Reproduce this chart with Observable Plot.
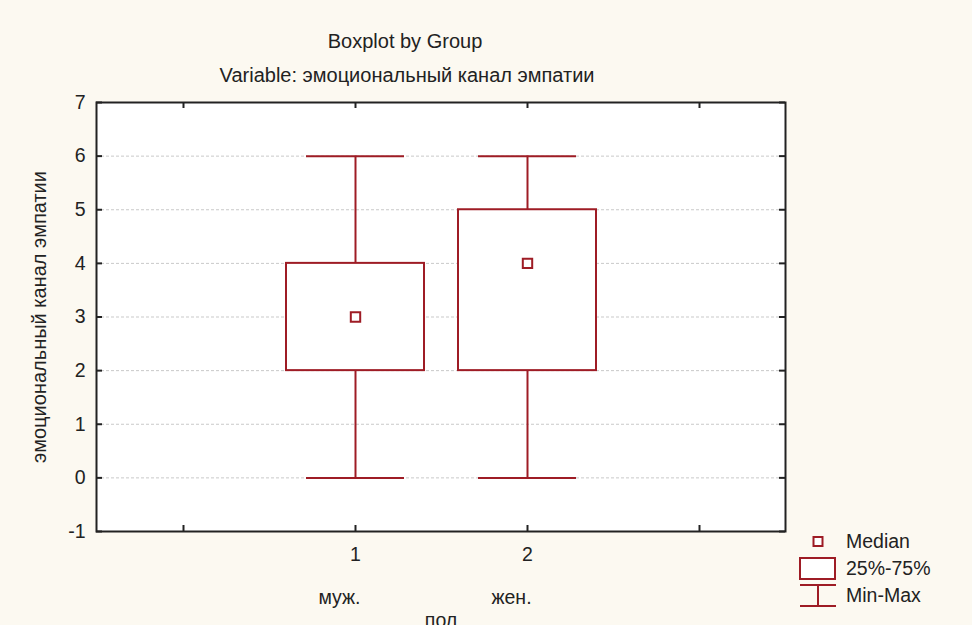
<!DOCTYPE html>
<html>
<head>
<meta charset="utf-8">
<script src="https://cdn.jsdelivr.net/npm/d3@7"></script>
<script src="https://cdn.jsdelivr.net/npm/@observablehq/plot@0.6"></script>
<style>
  html, body { margin: 0; padding: 0; background: #fcf9f1; overflow: hidden; }
  #chart { width: 972px; height: 625px; }
</style>
</head>
<body>
<div id="chart"></div>
<script>
// Box statistics per group (variable: эмоциональный канал эмпатии, grouped by пол)
const groups = [1, 2];
const groupNames = ["муж.", "жен."];
const minVals = [0, 0];
const q1Vals = [2, 2];
const medianVals = [3, 4];
const q3Vals = [4, 5];
const maxVals = [6, 6];

// Axis values
const xTickValues = [0, 1, 2, 3];
const xLabelValues = [1, 2];
const yTickValues = [-1, 0, 1, 2, 3, 4, 5, 6, 7];
const gridValues = [0, 1, 2, 3, 4, 5, 6];

const titleText = "Boxplot by Group";
const subtitleText = "Variable: эмоциональный канал эмпатии";
const yLabelText = "эмоциональный канал эмпатии";
const xLabelText = "пол";
const legendLabels = ["Median", "25%-75%", "Min-Max"];

const RED = "#9e1c25";
const INK = "#222";
const FONT = 19.5;
const TITLE_FONT = 20;

const rows = groups.map((g, i) => ({
  group: g,
  name: groupNames[i],
  min: minVals[i],
  q1: q1Vals[i],
  median: medianVals[i],
  q3: q3Vals[i],
  max: maxVals[i]
}));

const W = 972, H = 625;
const mL = 96, mR = 187, mT = 102, mB = 94;
const frameW = W - mL - mR;
const frameH = H - mT - mB;
const tick = 6;

const boxStyle = {stroke: RED, strokeWidth: 2};
const textStyle = {fontSize: FONT, fill: INK, lineAnchor: "middle", textAnchor: "middle"};
const titleStyle = {...textStyle, fontSize: TITLE_FONT};

const chart = Plot.plot({
  width: W,
  height: H,
  marginLeft: mL,
  marginRight: mR,
  marginTop: mT,
  marginBottom: mB,
  style: {
    background: "transparent",
    fontFamily: "'Liberation Sans', Arial, sans-serif",
    fontSize: FONT + "px",
    color: INK,
    overflow: "hidden"
  },
  x: {type: "band", domain: xTickValues, paddingInner: 0.2, paddingOuter: 0.1, align: 0.5, label: null},
  y: {domain: [-1, 7], label: null},
  marks: [
    Plot.frame({fill: "white"}),
    Plot.ruleY(gridValues, {stroke: "#c9c9c9", strokeWidth: 1, strokeDasharray: "3,2"}),

    // whiskers and caps
    Plot.ruleX(rows, {x: "group", y1: "min", y2: "q1", ...boxStyle}),
    Plot.ruleX(rows, {x: "group", y1: "q3", y2: "max", ...boxStyle}),
    Plot.tickY(rows, {x: "group", y: "min", inset: 20, ...boxStyle}),
    Plot.tickY(rows, {x: "group", y: "max", inset: 20, ...boxStyle}),

    // interquartile boxes and medians
    Plot.barY(rows, {x: "group", y1: "q1", y2: "q3", fill: "white", ...boxStyle}),
    Plot.dot(rows, {x: "group", y: "median", symbol: "square", r: 5.3, fill: "white", ...boxStyle}),

    // plot border with inward ticks on all four sides
    Plot.frame({stroke: INK, strokeWidth: 2}),
    Plot.ruleY(yTickValues, {insetRight: frameW - tick, stroke: INK, strokeWidth: 2}),
    Plot.ruleY(yTickValues, {insetLeft: frameW - tick, stroke: INK, strokeWidth: 2}),
    Plot.ruleX(xTickValues, {insetBottom: frameH - tick, stroke: INK, strokeWidth: 2}),
    Plot.ruleX(xTickValues, {insetTop: frameH - tick, stroke: INK, strokeWidth: 2}),

    // tick labels
    Plot.axisY(yTickValues, {tickSize: 0, tickPadding: 11, fontSize: FONT, label: null, tickFormat: d => String(d)}),
    Plot.axisX(xLabelValues, {tickSize: 0, tickPadding: 16, fontSize: FONT, label: null, tickFormat: d => String(d)}),

    // group names under the tick labels
    Plot.text(rows, {x: "group", text: "name", frameAnchor: "bottom", dy: 66, dx: -16, ...textStyle}),

    // titles and axis labels
    Plot.text([titleText], {frameAnchor: "top", dx: -36, dy: -61, ...titleStyle}),
    Plot.text([subtitleText], {frameAnchor: "top", dx: -34, dy: -27, ...titleStyle}),
    Plot.text([yLabelText], {frameAnchor: "left", rotate: -90, dx: -57, ...titleStyle}),
    Plot.text([xLabelText], {frameAnchor: "bottom", dy: 89, ...textStyle})
  ]
});

// legend at the lower right, outside the plotting frame
const svg = d3.select(chart);
const lg = svg.append("g")
  .attr("font-family", "'Liberation Sans', Arial, sans-serif")
  .attr("font-size", FONT)
  .attr("text-anchor", "start")
  .attr("fill", INK);

const keyX = 818;
lg.append("rect")
  .attr("x", keyX - 4.5).attr("y", 537).attr("width", 9).attr("height", 9)
  .attr("fill", "white").attr("stroke", RED).attr("stroke-width", 2);
lg.append("rect")
  .attr("x", 800).attr("y", 558).attr("width", 35).attr("height", 21)
  .attr("fill", "white").attr("stroke", RED).attr("stroke-width", 2);
lg.append("path")
  .attr("d", `M800,585H836M800,606H836M${keyX},585V606`)
  .attr("fill", "none").attr("stroke", RED).attr("stroke-width", 2);

const labelY = [541.5, 568.5, 595.5];
legendLabels.forEach((t, i) => {
  lg.append("text")
    .attr("x", 846).attr("y", labelY[i])
    .attr("dy", "0.35em")
    .attr("text-anchor", "start")
    .text(t);
});

document.getElementById("chart").appendChild(chart);
</script>
</body>
</html>
